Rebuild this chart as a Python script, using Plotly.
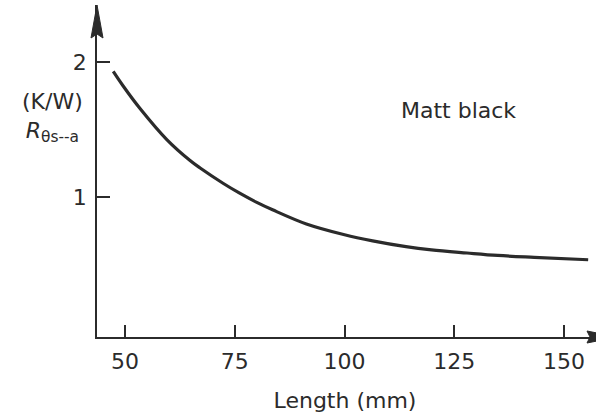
import plotly.graph_objects as go

# values
length_mm = [47.3, 49.6, 53.4, 59.5, 64.8, 67.1, 72.4, 76.0, 80.0, 83.6,
             91.3, 100.0, 106.4, 114.0, 119.8, 127.9, 134.9, 143.2, 155.5]
r_theta = [1.93, 1.82, 1.655, 1.425, 1.27, 1.215, 1.10, 1.03, 0.96, 0.905,
           0.80, 0.72, 0.675, 0.632, 0.608, 0.585, 0.567, 0.553, 0.535]

x_ticks = [50, 75, 100, 125, 150]
y_ticks = [1, 2]

ink = '#2b2b2b'
font = dict(family='DejaVu Sans', size=22, color=ink)

fig = go.Figure(go.Scatter(
    x=length_mm, y=r_theta, mode='lines', line_shape='spline',
    line=dict(color=ink, width=3.2), hoverinfo='skip'))

fig.update_layout(
    width=596, height=417,
    margin=dict(l=97, r=3, t=5, b=80),
    plot_bgcolor='white', paper_bgcolor='white',
    showlegend=False, font=font)

fig.update_xaxes(
    range=[43.6, 156.6], tickvals=x_ticks, ticks='inside', ticklen=12,
    tickwidth=1.5, tickcolor=ink, showline=True, linecolor=ink, linewidth=1.5,
    showgrid=False, zeroline=False, ticklabelstandoff=4, automargin=False,
    title=dict(text='Length (mm)', font=font, standoff=19))

fig.update_yaxes(
    range=[-0.037, 2.422], tickvals=y_ticks, ticks='inside', ticklen=13,
    tickwidth=1.5, tickcolor=ink, showline=True, linecolor=ink, linewidth=1.5,
    showgrid=False, zeroline=False, ticklabelstandoff=4, automargin=False)

# arrow heads on the axis ends (pixel-sized, anchored at the corners)
fig.add_shape(type='path', xref='paper', yref='paper', xanchor=0, yanchor=1,
              xsizemode='pixel', ysizemode='pixel',
              path='M0,0 L-6,-33 L0,-29 L6,-33 Z',
              fillcolor=ink, line=dict(color=ink, width=1))
fig.add_shape(type='path', xref='paper', yref='paper', xanchor=1, yanchor=0,
              xsizemode='pixel', ysizemode='pixel',
              path='M-6,-6 L24,0 L-6,6 L-3,0 Z',
              fillcolor=ink, line=dict(color=ink, width=1))

# y-axis label
fig.add_annotation(xref='paper', yref='paper', x=-0.089, y=0.66,
                   xanchor='center', yanchor='middle',
                   text='(K/W)<br><i>R</i><sub>θs--a</sub>', showarrow=False,
                   align='center', font=font)

fig.add_annotation(x=126, y=1.64, text='Matt black', showarrow=False, font=font)

# drop the page's default body margin so the figure sits at the window corner
fig.write_html('out.html', config={'displayModeBar': False},
               post_script="document.body.style.margin='0';")
